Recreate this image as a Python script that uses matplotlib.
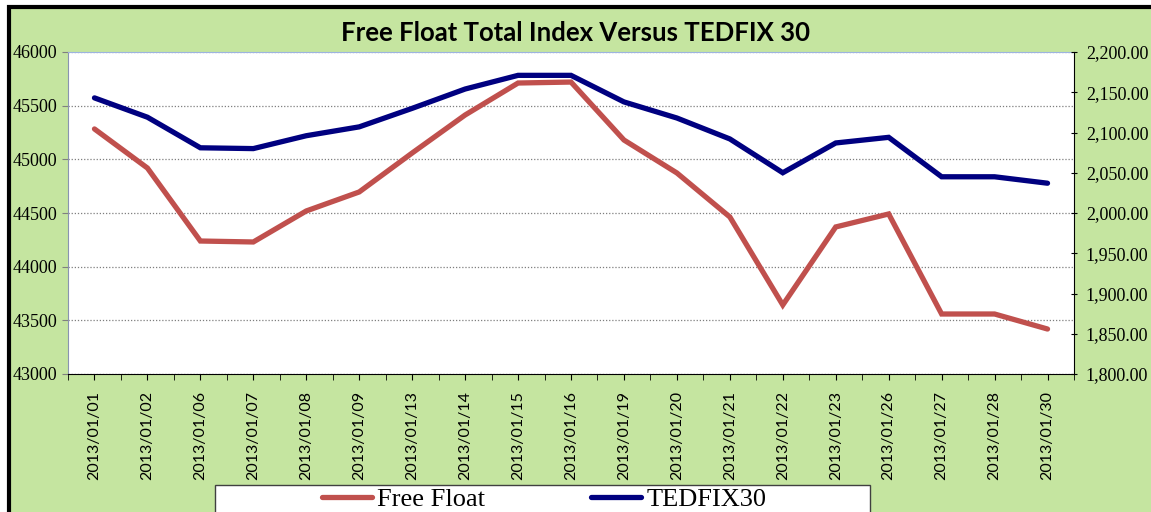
import numpy as np
import matplotlib.pyplot as plt
from matplotlib.patches import Rectangle
from matplotlib.ticker import MultipleLocator, FuncFormatter

dates = ['2013/01/01', '2013/01/02', '2013/01/06', '2013/01/07', '2013/01/08',
         '2013/01/09', '2013/01/13', '2013/01/14', '2013/01/15', '2013/01/16',
         '2013/01/19', '2013/01/20', '2013/01/21', '2013/01/22', '2013/01/23',
         '2013/01/26', '2013/01/27', '2013/01/28', '2013/01/30']
free_float = [45283, 44919, 44239, 44230, 44519, 44696, 45059, 45413, 45711, 45720,
              45180, 44873, 44463, 43643, 44370, 44491, 43559, 43559, 43419]
tedfix30 = [2143, 2119, 2081, 2080, 2096, 2107, 2130, 2154, 2171, 2171,
            2138, 2118, 2092, 2050, 2087, 2094, 2045, 2045, 2037]

green = '#C5E5A0'
W, H = 1151, 512

fig = plt.figure(figsize=(W / 100, H / 100), dpi=100)
fig.patch.set_facecolor('white')
# green chart area with black border (cropped at right/bottom)
fig.patches.append(Rectangle((9 / W, -0.5), 2.0, 1.5 - 7 / H, transform=fig.transFigure,
                             facecolor=green, edgecolor='black', linewidth=3, zorder=-1))

ax = fig.add_axes([68 / W, 1 - 374 / H, (1074 - 68) / W, (374 - 52) / H])
ax.set_facecolor('white')
x = np.arange(len(dates))

ax.plot(x, free_float, color='#C0504D', linewidth=3.8, solid_capstyle='round',
        solid_joinstyle='miter', label='Free Float', zorder=3)
ax.set_xlim(-0.5, len(dates) - 0.5)
ax.set_ylim(43000, 46000)
ax.yaxis.set_major_locator(MultipleLocator(500))
ax.grid(axis='y', color='#7f7f7f', linestyle=(0, (1, 1.5)), linewidth=0.9)
ax.set_axisbelow(True)

ax2 = ax.twinx()
ax2.plot(x, tedfix30, color='#000080', linewidth=3.8, solid_capstyle='round',
         solid_joinstyle='miter', label='TEDFIX30', zorder=3)
ax2.set_ylim(1800, 2200)
ax2.yaxis.set_major_locator(MultipleLocator(50))
ax2.yaxis.set_major_formatter(FuncFormatter(lambda v, p: f'{v:,.2f}'))

serif = 'Liberation Serif'
ax.spines['top'].set_color('#9db4e0')
ax2.spines['top'].set_visible(False)
ax.spines['left'].set_color('#8a94b0')
ax.spines['right'].set_visible(False)
ax.spines['bottom'].set_color('black')
ax2.spines['left'].set_visible(False)
ax2.spines['bottom'].set_visible(False)
ax2.spines['right'].set_color('black')

ax.tick_params(axis='y', labelsize=13, length=4, color='#7f7f7f', pad=4)
for t in ax.get_yticklabels():
    t.set_family(serif)
ax2.tick_params(axis='y', labelsize=13, length=5, direction='inout', color='black', pad=6)
for t in ax2.get_yticklabels():
    t.set_family(serif)

ax.set_xticks(x)
ax.set_xticks(np.arange(-0.5, len(dates), 1), minor=True)
ax.set_xticklabels(dates, rotation=90, fontsize=11.5, family='Lato')
ax.tick_params(axis='x', which='both', length=4, color='black', pad=8)

fig.text(0.5, 1 - 33 / H, 'Free Float Total Index Versus TEDFIX 30', ha='center',
         va='center', fontsize=18.5, fontweight='bold', family='Lato')

# legend box
fig.patches.append(Rectangle((215 / W, -0.1), (870 - 215) / W, 0.1 + 1 - 485 / H,
                             transform=fig.transFigure, facecolor='white',
                             edgecolor='#404040', linewidth=1, zorder=5))
h1, l1 = ax.get_legend_handles_labels()
h2, l2 = ax2.get_legend_handles_labels()
leg = fig.legend(h1 + h2, l1 + l2, loc='upper left', bbox_to_anchor=(322 / W, 1 - 488 / H),
                 ncol=2, frameon=False, prop={'family': serif, 'size': 19},
                 handlelength=1.9, handletextpad=0.2, columnspacing=4.0,
                 borderpad=0, borderaxespad=0)
leg.set_zorder(6)

fig.savefig('out.png', dpi=100, facecolor=fig.get_facecolor())
